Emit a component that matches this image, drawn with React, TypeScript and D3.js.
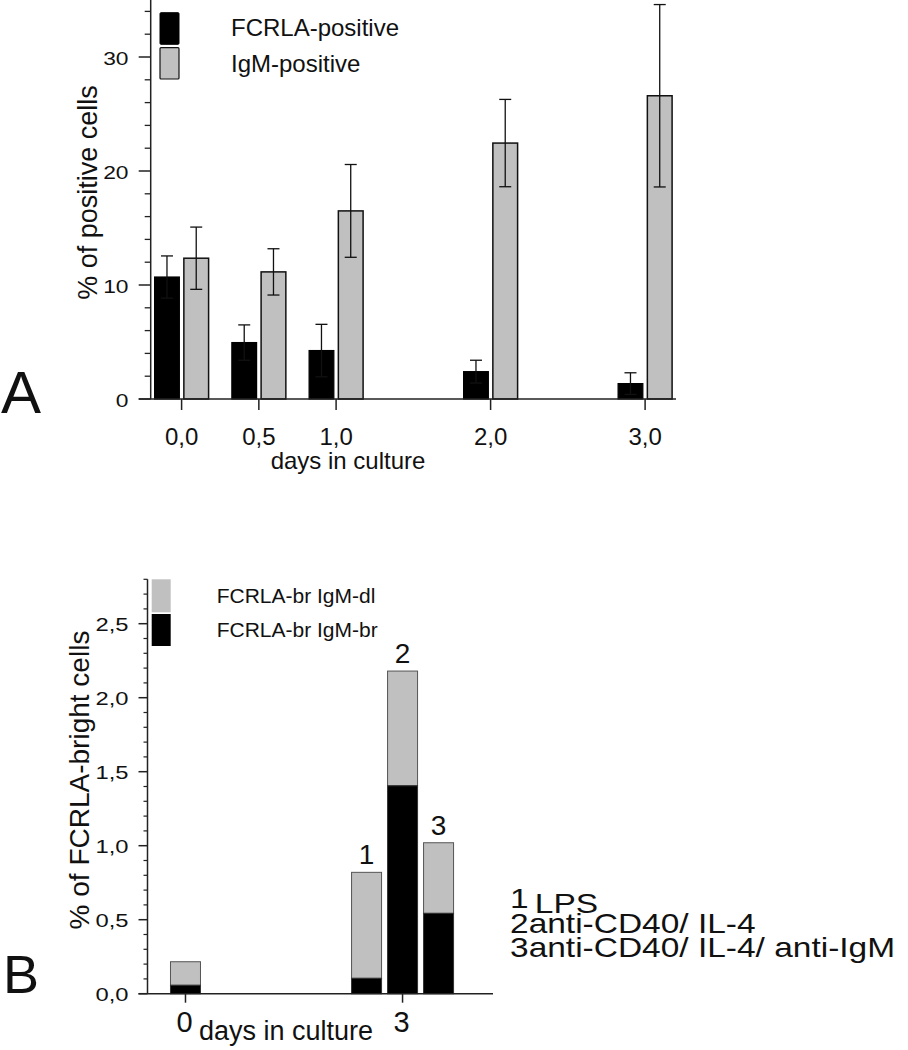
import React from "react";
import * as d3 from "d3";

// ---------- Panel A data ----------
const daysA = [0, 0.5, 1, 2, 3];
const dayLabelsA = ["0,0", "0,5", "1,0", "2,0", "3,0"];
const seriesA = ["FCRLA-positive", "IgM-positive"];
const fcrlaPos = [10.7, 4.95, 4.25, 2.4, 1.35];
const fcrlaErr = [1.85, 1.55, 2.3, 1.0, 0.95];
const igmPos = [12.35, 11.15, 16.5, 22.45, 26.6];
const igmErr = [2.73, 2.03, 4.07, 3.83, 8.0];
const yTicksA = [0, 10, 20, 30];

// ---------- Panel B data ----------
const daysB = [0, 3, 3, 3];
const groupsB = ["0", "1", "2", "3"];
const barLabelsB = ["", "1", "2", "3"];
const brightB = [0.057, 0.104, 1.405, 0.543];
const dullB = [0.159, 0.716, 0.775, 0.477];
const seriesB = ["FCRLA-br IgM-dl", "FCRLA-br IgM-br"];
const yTicksB = [0, 0.5, 1.0, 1.5, 2.0, 2.5];
const xTicksB = [0, 3];
const treatments = ["LPS", "anti-CD40/ IL-4", "anti-CD40/ IL-4/ anti-IgM"];

const FONT = "'Liberation Sans', Arial, Helvetica, sans-serif";
const GRAY = "#c0c0c0";
const AX = "#222";

const fmt = (v: number) => d3.format(".1f")(v).replace(".", ",");

export default function App() {
  // Panel A scales
  const xA = d3.scaleLinear().domain([-0.2, 3.2]).range([150.7, 676]);
  const yA = d3.scaleLinear().domain([0, 35]).range([399, 0]);
  const subA = d3.scaleBand().domain(seriesA).range([-27, 27]).paddingInner(0.154);
  const minorA = d3.range(2, 35, 2).filter((v) => v % 10 !== 0);

  // Panel B scales
  const xB = d3.scaleLinear().domain([-0.525, 4.25]).range([147.5, 493]);
  const yB = d3.scaleLinear().domain([0, 2.8]).range([993.7, 579.3]);
  const subB = d3.scaleBand().domain(["1", "2", "3"]).range([-51, 51]).paddingInner(1 / 6);
  const bw = subB.bandwidth();
  const minorB = d3.range(0, 29).map((i) => i / 10).filter((v) => Math.round(v * 10) % 5 !== 0);
  const barX = (i: number) =>
    daysB[i] === 0 ? xB(daysB[i]) - bw / 2 : xB(daysB[i]) + (subB(groupsB[i]) as number);

  const capW = 6;
  const x0A = xA(-0.2);
  const x0B = xB(-0.525);

  return (
    <svg width={908} height={1050} style={{ position: "absolute", left: 0, top: 0, background: "#fff" }} fontFamily={FONT}>
      {/* ================= PANEL A ================= */}
      {/* bars */}
      {daysA.map((d, i) => {
        const cx = xA(d);
        const xb = cx + (subA(seriesA[0]) as number);
        const xg = cx + (subA(seriesA[1]) as number);
        const w = subA.bandwidth();
        return (
          <g key={"a" + i}>
            <rect x={xb} y={yA(fcrlaPos[i])} width={w} height={yA(0) - yA(fcrlaPos[i])} fill="#000" stroke="#000" strokeWidth={1.2} />
            <rect x={xg} y={yA(igmPos[i])} width={w} height={yA(0) - yA(igmPos[i])} fill={GRAY} stroke="#111" strokeWidth={1.5} />
            {/* error bars */}
            {[
              { c: xb + w / 2, v: fcrlaPos[i], e: fcrlaErr[i] },
              { c: xg + w / 2, v: igmPos[i], e: igmErr[i] },
            ].map((eb, j) => (
              <g key={j} stroke="#111" strokeWidth={1.3}>
                <line x1={eb.c} x2={eb.c} y1={yA(eb.v + eb.e)} y2={yA(eb.v - eb.e)} />
                <line x1={eb.c - capW} x2={eb.c + capW} y1={yA(eb.v + eb.e)} y2={yA(eb.v + eb.e)} />
                <line x1={eb.c - capW} x2={eb.c + capW} y1={yA(eb.v - eb.e)} y2={yA(eb.v - eb.e)} />
              </g>
            ))}
          </g>
        );
      })}
      {/* axes A */}
      <line x1={x0A} x2={x0A} y1={yA(35)} y2={yA(0)} stroke={AX} strokeWidth={1.5} />
      <line x1={x0A - 12} x2={xA(3.2)} y1={yA(0)} y2={yA(0)} stroke={AX} strokeWidth={1.5} />
      {yTicksA.map((t) => (
        <g key={"ya" + t}>
          <line x1={x0A - 12} x2={x0A} y1={yA(t)} y2={yA(t)} stroke={AX} strokeWidth={1.5} />
          <text transform={`translate(128.5, ${yA(t) + 7.5}) scale(1.2,1)`} textAnchor="end" fontSize={19} fill="#111">
            {t}
          </text>
        </g>
      ))}
      {minorA.map((t) => (
        <line key={"yma" + t} x1={x0A - 6} x2={x0A} y1={yA(t)} y2={yA(t)} stroke={AX} strokeWidth={1.3} />
      ))}
      {daysA.map((d, i) => (
        <g key={"xa" + i}>
          <line x1={xA(d)} x2={xA(d)} y1={yA(0)} y2={yA(0) + 11} stroke={AX} strokeWidth={1.5} />
          <text x={xA(d)} y={445} textAnchor="middle" fontSize={24} fill="#111">
            {dayLabelsA[i]}
          </text>
        </g>
      ))}
      <text x={348} y={469} textAnchor="middle" fontSize={24} fill="#111">days in culture</text>
      <text transform="translate(97, 192.5) rotate(-90)" textAnchor="middle" fontSize={27} fill="#111">% of positive cells</text>
      <text x={1} y={413} fontSize={60} fill="#111">A</text>
      {/* legend A */}
      <rect x={160} y={12.7} width={19} height={31.6} rx={1} fill="#000" stroke="#000" strokeWidth={1} />
      <rect x={160} y={47.7} width={19} height={31.3} rx={1} fill={GRAY} stroke="#111" strokeWidth={1.2} />
      <text x={231} y={36} fontSize={24} fill="#111">{seriesA[0]}</text>
      <text x={231} y={71.7} fontSize={24} fill="#111">{seriesA[1]}</text>

      {/* ================= PANEL B ================= */}
      {daysB.map((d, i) => {
        const x = barX(i);
        const total = brightB[i] + dullB[i];
        return (
          <g key={"b" + i}>
            <rect x={x} y={yB(total)} width={bw} height={yB(brightB[i]) - yB(total)} fill={GRAY} stroke="#555" strokeWidth={1} />
            <rect x={x} y={yB(brightB[i])} width={bw} height={yB(0) - yB(brightB[i])} fill="#000" stroke="#333" strokeWidth={1} />
            {barLabelsB[i] && (
              <text x={x + bw / 2} y={yB(total) - 8} textAnchor="middle" fontSize={28} fill="#111">
                {barLabelsB[i]}
              </text>
            )}
          </g>
        );
      })}
      {/* axes B */}
      <line x1={x0B} x2={x0B} y1={yB(2.8)} y2={yB(0)} stroke={AX} strokeWidth={1.5} />
      <line x1={x0B - 9} x2={xB(4.25)} y1={yB(0)} y2={yB(0)} stroke={AX} strokeWidth={1.5} />
      {yTicksB.map((t) => (
        <g key={"yb" + t}>
          <line x1={x0B - 9} x2={x0B} y1={yB(t)} y2={yB(t)} stroke={AX} strokeWidth={1.5} />
          <text transform={`translate(128.5, ${yB(t) + 7}) scale(1.25,1)`} textAnchor="end" fontSize={19} fill="#111">
            {fmt(t)}
          </text>
        </g>
      ))}
      {minorB.map((t) => (
        <line key={"ymb" + t} x1={x0B - 4} x2={x0B} y1={yB(t)} y2={yB(t)} stroke={AX} strokeWidth={1.2} />
      ))}
      {xTicksB.map((d) => (
        <g key={"xb" + d}>
          <line x1={xB(d)} x2={xB(d)} y1={yB(0)} y2={yB(0) + 9} stroke={AX} strokeWidth={1.5} />
          <text x={xB(d) - 1} y={1032} textAnchor="middle" fontSize={29} fill="#111">
            {d}
          </text>
        </g>
      ))}
      <text x={199} y={1040} fontSize={27} fill="#111">days in culture</text>
      <text transform="translate(89, 780) rotate(-90)" textAnchor="middle" fontSize={28} fill="#111">% of FCRLA-bright cells</text>
      <text x={3} y={993} fontSize={54} fill="#111">B</text>
      {/* legend B */}
      <rect x={151.7} y={579.3} width={19} height={33} fill={GRAY} />
      <rect x={151.7} y={614} width={19} height={32} fill="#000" />
      <text x={216.7} y={603} fontSize={21} fill="#111">{seriesB[0]}</text>
      <text x={216.7} y={637} fontSize={21} fill="#111">{seriesB[1]}</text>
      {/* treatments key */}
      {treatments.map((t, i) => (
        <g key={"tr" + i} transform={`translate(510, ${i === 0 ? 908 : 910 + i * 23.4}) scale(1.24,1)`}>
          <text x={0} y={0} fontSize={27} fill="#111">
            {i + 1}
            {i === 0 ? <tspan dx={5} dy={4.5}>{t}</tspan> : t}
          </text>
        </g>
      ))}
    </svg>
  );
}
